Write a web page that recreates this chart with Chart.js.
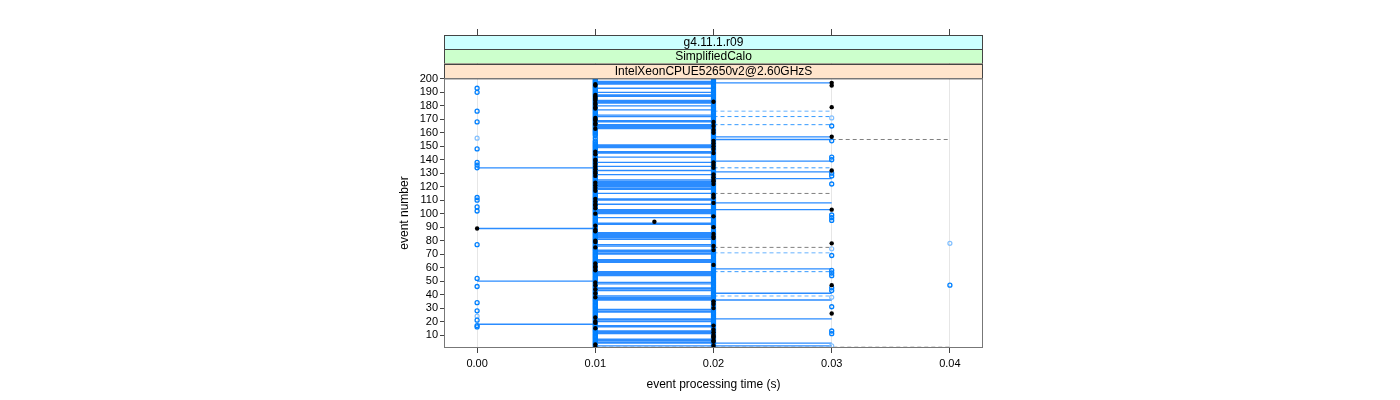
<!DOCTYPE html>
<html>
<head>
<meta charset="utf-8">
<script src="https://cdn.jsdelivr.net/npm/chart.js@4.4.1/dist/chart.umd.min.js"></script>
<style>
  html, body { margin: 0; padding: 0; background: #fff; }
</style>
</head>
<body>
<canvas id="chart" width="1400" height="400"></canvas>
<script>
// strip labels, outermost first
const stripLabels = ["g4.11.1.r09", "SimplifiedCalo", "IntelXeonCPUE52650v2@2.60GHzS"];
const stripColors = ["#ccffff", "#ccffcc", "#ffe5cc"];

const timeTicks = [0.00, 0.01, 0.02, 0.03, 0.04];
const eventTicks = [10, 20, 30, 40, 50, 60, 70, 80, 90, 100, 110, 120, 130, 140, 150, 160, 170, 180, 190, 200];

// events that have a run at 0.01 s and 0.02 s (inclusive ranges)
const runsAt10 = [[1, 154], [156, 156], [158, 200]];
const runsAt20 = [[1, 88], [90, 200]];
// single runs elsewhere
const runsAt00 = [193, 190, 176, 168, 148, 138, 136, 134, 112, 110, 105, 102, 77, 52, 46, 34, 28, 21, 17, 16];
const runsAt30 = [165, 154, 142, 140, 130, 128, 122, 99, 97, 95, 69, 58, 56, 54, 45, 43, 31, 13, 11];
const runsAt40 = [47];
const faintRuns = [[0.00, 156], [0.00, 24], [0.03, 171], [0.03, 74], [0.03, 38], [0.03, 2], [0.04, 78]];

// medians (black dots)
const medAt10 = [196, 195, 188, 187, 186, 185, 184, 182, 181, 179, 178, 171, 170, 169, 167, 166, 163, 146, 144,
  140, 139, 137, 135, 133, 131, 130, 128, 123, 121, 119, 117, 111, 109, 107, 106, 104, 100, 91, 88, 87, 80, 79,
  75, 63, 61, 60, 58, 49, 47, 44, 41, 38, 23, 20, 19, 15, 3, 1];
const medAt20 = [183, 168, 165, 162, 160, 154, 152, 150, 148, 145, 138, 136, 134, 129, 127, 125, 124, 122, 114,
  112, 108, 98, 90, 85, 83, 82, 76, 73, 62, 35, 33, 30, 17, 14, 12, 10, 9, 8, 6, 5, 2];
const medOther = [[0.00, 89], [0.015, 94], [0.03, 197], [0.03, 195], [0.03, 179], [0.03, 157], [0.03, 132],
  [0.03, 103], [0.03, 78], [0.03, 47], [0.03, 26]];

// ranges drawn as horizontal lines
const spans1020 = [198, 196, 193, 190, 188, 187, 184, 183, 182, 180, 177, 173, 172, 169, 168, 166, 165, 164, 163,
  151, 150, 149, 146, 145, 142, 138, 135, 132, 129, 125, 124, 123, 122, 121, 120, 119, 118, 115, 111, 110, 107,
  103, 102, 101, 100, 97, 93, 92, 86, 85, 84, 83, 82, 81, 77, 76, 73, 72, 71, 70, 66, 65, 64, 57, 56, 55, 54,
  49, 48, 45, 44, 43, 39, 38, 37, 36, 29, 28, 27, 22, 21, 20, 17, 16, 13, 12, 11, 7, 6, 5];
const otherSpans = [[134, 0.00, 0.01], [89, 0.00, 0.01], [50, 0.00, 0.01], [18, 0.00, 0.01],
  [197, 0.01, 0.03], [4, 0.01, 0.03], [2, 0.01, 0.03],
  [157, 0.02, 0.03], [155, 0.02, 0.03], [139, 0.02, 0.03], [131, 0.02, 0.03], [126, 0.02, 0.03],
  [108, 0.02, 0.03], [103, 0.02, 0.03], [59, 0.02, 0.03], [41, 0.02, 0.03], [36, 0.02, 0.03], [22, 0.02, 0.03]];
const dashedBlue = [[172, 0.02, 0.03], [166, 0.02, 0.03], [134, 0.02, 0.03], [57, 0.02, 0.03]];
const dashedLight = [[176, 0.02, 0.03], [71, 0.02, 0.03], [39, 0.02, 0.03]];
const dashedGrey = [[155, 0.03, 0.04], [115, 0.02, 0.03], [75, 0.02, 0.03], [1, 0.01, 0.04]];

const FONT = "'Liberation Sans', Arial, sans-serif";
const BLUE = "#0080ff";

function expand(ranges) {
  const out = [];
  ranges.forEach(([a, b]) => { for (let e = a; e <= b; e++) out.push(e); });
  return out;
}
function at(t, evs) { return evs.map(e => ({ x: t, y: e })); }
function spanPoints(spans) {
  const pts = [];
  spans.forEach(([ev, t0, t1]) => pts.push({ x: t0, y: ev }, { x: t1, y: ev }, { x: t1, y: null }));
  return pts;
}

const allSolid = spans1020.map(e => [e, 0.01, 0.02]).concat(otherSpans);

function lineSet(spans, color, dash, width) {
  return {
    data: spanPoints(spans), showLine: true, spanGaps: false, pointRadius: 0,
    borderColor: color, borderWidth: width, borderDash: dash, fill: false
  };
}

const stripPlugin = {
  id: "strips",
  afterDraw(chart) {
    const { ctx, chartArea: a } = chart;
    const h = (a.top - 35) / stripLabels.length;
    ctx.save();
    stripLabels.forEach((lab, i) => {
      const y = 35 + i * h;
      ctx.fillStyle = stripColors[i];
      ctx.fillRect(a.left, y, a.right - a.left, h);
      ctx.strokeStyle = "#444";
      ctx.lineWidth = 1;
      ctx.strokeRect(a.left + 0.5, Math.round(y) + 0.5, a.right - a.left - 1, h);
      ctx.fillStyle = "#000";
      ctx.font = "12px " + FONT;
      ctx.textAlign = "center";
      ctx.textBaseline = "middle";
      ctx.fillText(lab, (a.left + a.right) / 2, y + h / 2 + 0.5);
    });
    ctx.strokeStyle = "#777";
    ctx.strokeRect(a.left + 0.5, a.top + 0.5, a.right - a.left - 1, a.bottom - a.top - 1);
    ctx.restore();
  }
};

new Chart(document.getElementById("chart"), {
  type: "scatter",
  data: {
    datasets: [
      { data: at(0.01, medAt10).concat(at(0.02, medAt20), medOther.map(([x, y]) => ({ x, y }))),
        pointRadius: 2.2, pointBackgroundColor: "#000", pointBorderWidth: 0 },
      { data: at(0.00, runsAt00).concat(at(0.01, expand(runsAt10)), at(0.02, expand(runsAt20)),
          at(0.03, runsAt30), at(0.04, runsAt40)),
        pointRadius: 2, pointBackgroundColor: "rgba(0,0,0,0)", pointBorderColor: BLUE, pointBorderWidth: 1.3 },
      { data: faintRuns.map(([x, y]) => ({ x, y })),
        pointRadius: 2, pointBackgroundColor: "rgba(0,0,0,0)", pointBorderColor: "#80bfff", pointBorderWidth: 1.2 },
      lineSet(allSolid, "#2b8cff", [], 1.3),
      lineSet(dashedBlue, "#3399ff", [4, 3], 1),
      lineSet(dashedLight, "#99ccff", [4, 3], 1.4),
      lineSet(dashedGrey, "#808080", [4, 3], 1)
    ]
  },
  options: {
    responsive: false,
    animation: false,
    devicePixelRatio: 1,
    layout: { autoPadding: false, padding: { left: 388, right: 417, top: 29, bottom: 0 } },
    plugins: { legend: { display: false }, tooltip: { enabled: false } },
    scales: {
      x: {
        type: "linear", position: "bottom", min: -0.0028, max: 0.0428,
        afterBuildTicks: s => { s.ticks = timeTicks.map(v => ({ value: v })); },
        afterFit: s => { s.height = 52; },
        grid: { color: "#e6e6e6", drawTicks: true, tickLength: 5, tickColor: "#444" },
        border: { display: false },
        ticks: { color: "#000", font: { family: FONT, size: 11 }, padding: 4, maxRotation: 0, autoSkip: false,
          callback: v => v.toFixed(2) },
        title: { display: true, text: "event processing time (s)", color: "#000",
          font: { family: FONT, size: 12 }, padding: { top: 0, bottom: 8 } }
      },
      xTop: {
        type: "linear", position: "top", min: -0.0028, max: 0.0428,
        afterBuildTicks: s => { s.ticks = timeTicks.map(v => ({ value: v })); },
        afterFit: s => { s.height = 49; },
        grid: { drawOnChartArea: false, drawTicks: true, tickLength: 49, tickColor: "#444" },
        border: { display: false },
        ticks: { display: false }
      },
      y: {
        type: "linear", min: 0.4, max: 200.6,
        afterBuildTicks: s => { s.ticks = eventTicks.map(v => ({ value: v })); },
        afterFit: s => { s.width = 56; },
        grid: { drawOnChartArea: false, drawTicks: true, tickLength: 4, tickColor: "#444" },
        border: { display: false },
        ticks: { color: "#000", font: { family: FONT, size: 11 }, padding: 2, autoSkip: false },
        title: { display: true, text: "event number", color: "#000",
          font: { family: FONT, size: 12 }, padding: { top: 9, bottom: 0 } }
      }
    }
  },
  plugins: [stripPlugin]
});
</script>
</body>
</html>
